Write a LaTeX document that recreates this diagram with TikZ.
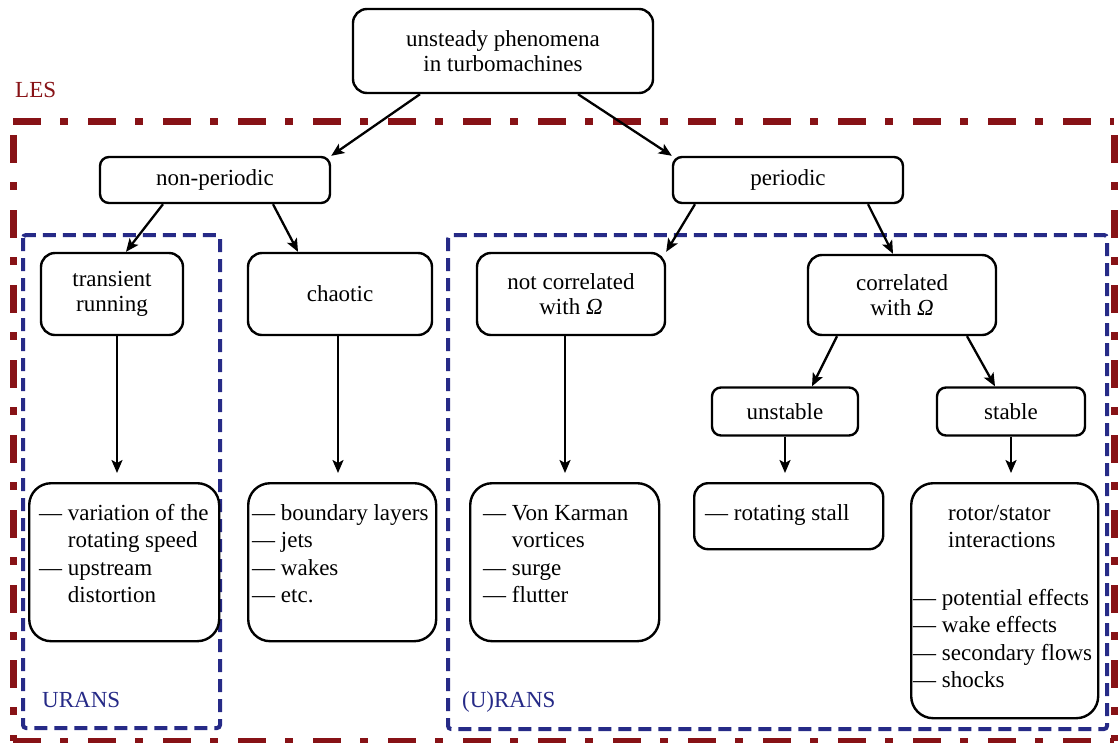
\documentclass[tikz,border=0pt]{standalone}
\usepackage{fontspec}
\setmainfont{Liberation Serif}
\usetikzlibrary{arrows.meta}
\definecolor{lesred}{RGB}{135,18,22}
\definecolor{ransblue}{RGB}{38,42,135}
\newcommand{\itemlist}[1]{\begin{tabular}[t]{@{}l@{}}#1\end{tabular}}
\newcommand{\ind}{\hphantom{— }}
\begin{document}
\begin{tikzpicture}[x=1pt,y=-1pt,
  font=\fontsize{23}{25.5}\selectfont,
  box/.style={draw=black, line width=2.4pt, rounded corners=14pt, fill=white, inner sep=0pt, align=center},
  smallbox/.style={box, rounded corners=9pt},
  listbox/.style={draw=black, line width=2.4pt, rounded corners=22pt, fill=white, inner sep=0pt, anchor=north west},
  listtext/.style={anchor=base west, inner sep=0pt, font=\fontsize{23}{27.5}\selectfont},
  arr/.style={line width=2.3pt, -{Stealth[length=13pt,width=11pt,inset=3pt]}},
  lesframe/.style={draw=lesred, line width=7pt, dash pattern=on 28pt off 19pt on 8pt off 20pt},
  ransframe/.style={draw=ransblue, line width=4pt, dash pattern=on 13pt off 7pt, rounded corners=3pt},
  framelabel/.style={anchor=base west, inner sep=0pt}]
\useasboundingbox (0,0) rectangle (1118,742);

% frames
\draw[lesframe] (13,121) -- (1114,121);
\draw[lesframe, dash phase=-14pt] (13,121) -- (13,741);
\draw[lesframe] (13,741) -- (1114,741);
\draw[lesframe, dash phase=-14pt] (1114,121) -- (1114,741);
\draw[ransframe] (23,235) rectangle (220,728);
\draw[ransframe] (448,235) rectangle (1107,729);
\node[framelabel, text=lesred] (les) at (15,97) {LES};
\node[framelabel, text=ransblue] (urans) at (42,707) {URANS};
\node[framelabel, text=ransblue] (uurans) at (462,707) {(U)RANS};

% header boxes
\node[box, minimum width=300pt, minimum height=84pt] (top) at (503,51) {unsteady phenomena\\in turbomachines};
\node[smallbox, minimum width=230pt, minimum height=46pt] (nonper) at (215,180) {non-periodic};
\node[smallbox, minimum width=230pt, minimum height=46pt] (per) at (788,180) {periodic};
\node[box, minimum width=142pt, minimum height=82pt] (trans) at (112,294) {transient\\running};
\node[box, minimum width=184pt, minimum height=82pt] (chaotic) at (340,294) {chaotic};
\node[box, minimum width=188pt, minimum height=82pt] (notcorr) at (571,294) {not correlated\\with \textit{Ω}};
\node[box, minimum width=188pt, minimum height=80pt] (corr) at (902,295) {correlated\\with \textit{Ω}};
\node[smallbox, minimum width=146pt, minimum height=48pt] (unstable) at (785,411.5) {unstable};
\node[smallbox, minimum width=148pt, minimum height=48pt] (stable) at (1011,411.5) {stable};

% list boxes
\node[listbox, minimum width=190pt, minimum height=158pt] (b1) at (28,482) {};
\node[listbox, minimum width=188pt, minimum height=158pt] (b2) at (247,482) {};
\node[listbox, minimum width=189pt, minimum height=158pt] (b3) at (469,482) {};
\node[listbox, rounded corners=14pt, minimum width=189pt, minimum height=66pt] (b4) at (693,482) {};
\node[listbox, minimum width=187pt, minimum height=235pt] (b5) at (910,482) {};

\node[listtext] (t1) at (39,520) {\itemlist{— variation of the\\\ind rotating speed\\— upstream\\\ind distortion}};
\node[listtext] (t2) at (252,520) {\itemlist{— boundary layers\\— jets\\— wakes\\— etc.}};
\node[listtext] (t3) at (483,520) {\itemlist{— Von Karman\\\ind vortices\\— surge\\— flutter}};
\node[listtext] (t4) at (705,520) {\itemlist{— rotating stall}};
\node[listtext] (t5a) at (948,520) {\itemlist{rotor/stator\\interactions}};
\node[listtext] (t5b) at (913,605) {\itemlist{— potential effects\\— wake effects\\— secondary flows\\— shocks}};

% arrows
\draw[arr] ([xshift=-83pt]top.south) -- (nonper.north east);
\draw[arr] ([xshift=75pt]top.south) -- (per.north west);
\draw[arr] ([xshift=-52pt]nonper.south) -- ([xshift=14pt]trans.north);
\draw[arr] ([xshift=58pt]nonper.south) -- ([xshift=-42pt]chaotic.north);
\draw[arr] ([xshift=-93pt]per.south) -- (notcorr.north east);
\draw[arr] ([xshift=80pt]per.south) -- ([xshift=-9pt]corr.north);
\draw[arr] ([xshift=-65pt]corr.south) -- ([xshift=27pt]unstable.north);
\draw[arr] ([xshift=65pt]corr.south) -- ([xshift=-16pt]stable.north);

\draw[arr, shorten >=9pt] ([xshift=5pt]trans.south) -- ([xshift=5pt]trans.south |- b1.north);
\draw[arr, shorten >=9pt] ([xshift=-2pt]chaotic.south) -- ([xshift=-2pt]chaotic.south |- b2.north);
\draw[arr, shorten >=9pt] ([xshift=-6pt]notcorr.south) -- ([xshift=-6pt]notcorr.south |- b3.north);
\draw[arr, shorten >=9pt] (unstable.south) -- (unstable.south |- b4.north);
\draw[arr, shorten >=9pt] (stable.south) -- (stable.south |- b5.north);
\end{tikzpicture}
\end{document}
